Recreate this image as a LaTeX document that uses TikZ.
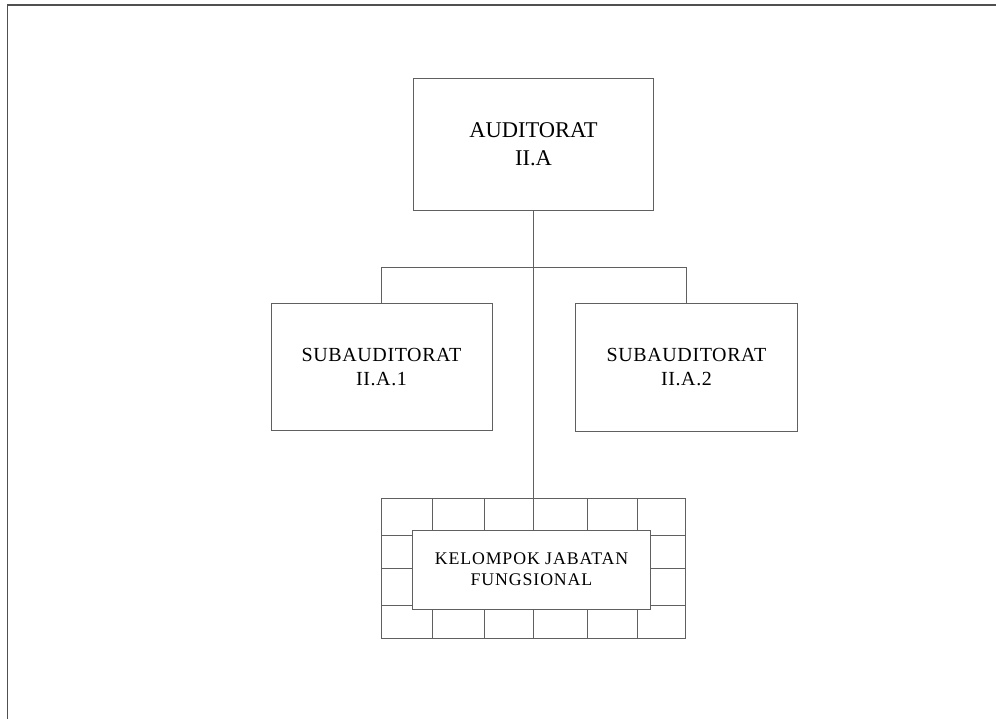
\documentclass[tikz,border=0pt]{standalone}
\usepackage{fontspec}
\setmainfont{Liberation Serif}
\definecolor{linegray}{HTML}{606060}
\definecolor{framegray}{HTML}{505050}
\tikzset{
  unitbox/.style={draw=linegray, line width=1pt, fill=white, align=center, inner sep=0pt},
  conn/.style={draw=linegray, line width=1pt},
  topfont/.style={font=\fontsize{22.5}{28}\selectfont},
  subfont/.style={font=\addfontfeatures{LetterSpace=3}\fontsize{20}{24}\selectfont},
  kjffont/.style={font=\addfontfeatures{LetterSpace=5}\fontsize{17.8}{21}\selectfont},
}
\begin{document}
\begin{tikzpicture}[x=1pt,y=-1pt]
\useasboundingbox (0,0) rectangle (996,719);
% frame
\draw[framegray, line width=1.6pt] (7.5,719) -- (7.5,5) -- (996,5);
% boxes
\node[unitbox, topfont, minimum width=240pt, minimum height=132pt] (top) at (533.5,144.5) {AUDITORAT\\II.A};
\node[unitbox, subfont, minimum width=221pt, minimum height=127pt] (sub1) at (381.5,367) {SUBAUDITORAT\\II.A.1};
\node[unitbox, subfont, minimum width=222pt, minimum height=128pt] (sub2) at (686.5,367.5) {SUBAUDITORAT\\II.A.2};
% grid frame
\node[draw=linegray, line width=1pt, minimum width=304pt, minimum height=140pt, inner sep=0pt] (grid) at (533.5,568.5) {};
\foreach \gx in {432.5,484.5,533.5,587.5,637.5}
  \draw[conn] (\gx,498.5) -- (\gx,638.5);
\foreach \gy in {535.5,568.5,605.5}
  \draw[conn] (381.5,\gy) -- (685.5,\gy);
\node[unitbox, kjffont, minimum width=238pt, minimum height=79pt] (kjf) at (531.5,569.5) {KELOMPOK JABATAN\\FUNGSIONAL};
% connectors
\coordinate (branch) at (533.5,267.5);
\draw[conn] (top.south) -- (grid.north);
\draw[conn] (sub1.north) |- (branch) -| (sub2.north);
\end{tikzpicture}
\end{document}
